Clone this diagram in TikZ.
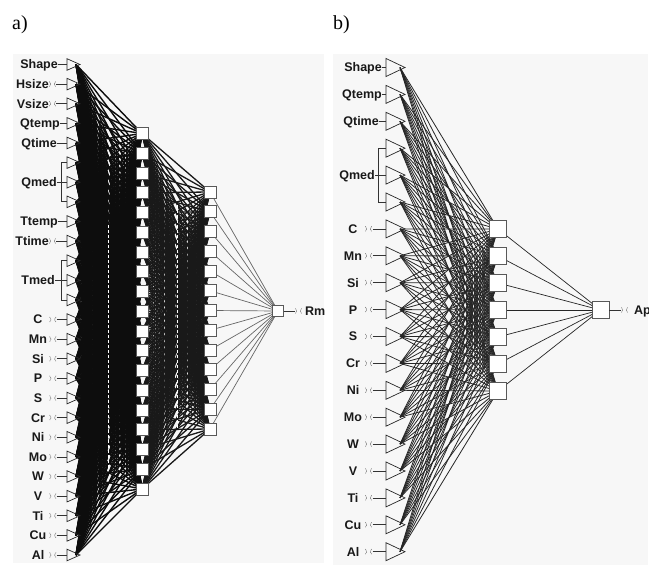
\documentclass[tikz,border=0pt]{standalone}
\usepackage{fontspec}
\setmainfont{Liberation Serif}
\newfontfamily\labfont{Liberation Sans}
\usetikzlibrary{calc}
\pgfdeclarelayer{bgl}
\pgfdeclarelayer{wires}
\pgfsetlayers{bgl,wires,main}
\definecolor{bgc}{gray}{0.97}
\definecolor{sqedge}{gray}{0.35}
\begin{document}
\begin{tikzpicture}[x=1bp,y=-1bp,
  lbl/.style={font=\labfont\bfseries\fontsize{12.5bp}{14bp}\selectfont, inner sep=0pt, text=black!90},
  captext/.style={font=\fontsize{20bp}{22bp}\selectfont, inner sep=0pt, anchor=base west},
  triA/.style={draw=black!85, line width=0.7bp},
  triB/.style={draw=black!85, line width=0.7bp},
  conn/.style={draw=black!80, line width=0.7bp},
  symst/.style={draw=black!50, line width=0.6bp, dash pattern=on 1bp off 0.6bp},
  sqA/.style={rectangle, draw=sqedge, fill=white, line width=0.8bp, minimum size=12bp, inner sep=0pt},
  sqB/.style={rectangle, draw=sqedge, fill=white, line width=0.8bp, minimum size=17.5bp, inner sep=0pt},
  wA1/.style={draw=black!95, line width=1.4bp},
  wA2/.style={draw=black!90, line width=1.3bp},
  wA3/.style={draw=black!60, line width=0.7bp},
  wB1/.style={draw=black!85, line width=0.8bp},
  wB2/.style={draw=black!85, line width=0.7bp},
  artefact/.style={draw=white, line width=0.9bp, dash pattern=on 3bp off 2bp},
  scl/.pic={\draw[symst] (-3.2,-2.6) .. controls (-1.2,0) .. (-3.2,2.6);
            \draw[symst] (3.2,-2.6) .. controls (1.2,0) .. (3.2,2.6);}
]
\useasboundingbox (0,0) rectangle (659,570);
\begin{pgfonlayer}{bgl}
\fill[bgc] (13,54) rectangle (324,563);
\fill[bgc] (333,54) rectangle (648,565);
\end{pgfonlayer}

\node[captext] (capa) at (12,30) {a)};
\node[captext] (capb) at (333,30) {b)};

% ---------------- panel a ----------------
\foreach \i in {0,...,25}{
  \pgfmathsetmacro\yy{64.5+19.62*\i}
  \coordinate (aL\i) at (67,\yy);
  \coordinate (aT\i) at (76,\yy);
  \draw[triA] (67,\yy-5.8) -- (80,\yy) -- (67,\yy+5.8) -- cycle;
}
\foreach \j in {0,...,18}{\node[sqA] (a1h\j) at (142,{133.5+19.75*\j}) {};}
\foreach \k in {0,...,12}{\node[sqA] (a2h\k) at (210,{192+19.75*\k}) {};}
\node[sqA, minimum size=11bp] (aout) at (278,311) {};

\begin{pgfonlayer}{wires}
\foreach \i in {0,...,25}{\foreach \j in {0,...,18}{\draw[wA1] (aT\i) -- (a1h\j.center);}}
\foreach \j in {0,...,18}{\foreach \k in {0,...,12}{\draw[wA2] (a1h\j.center) -- (a2h\k.center);}}
\foreach \k in {0,...,12}{\draw[wA3] (a2h\k.center) -- (aout.center);}
\draw[artefact] (108,225) -- (108,470);
\draw[artefact] (177,205) -- (177,430);
\end{pgfonlayer}

% labels panel a
\foreach \i/\t/\r in {0/Shape/58,3/Qtemp/60,4/Qtime/57,8/Ttemp/58}{
  \pgfmathsetmacro\yy{64.5+19.62*\i}
  \node[lbl, anchor=base east] (la\i) at (\r,\yy+4.4) {\t};
  \draw[conn] (la\i.east |- aL\i) -- (aL\i);
}
\foreach \i/\t in {1/Hsize,2/Vsize,9/Ttime}{
  \pgfmathsetmacro\yy{64.5+19.62*\i}
  \node[lbl, anchor=base east] (la\i) at (49,\yy+4.4) {\t};
  \pic at (52.5,\yy) {scl};
  \coordinate (aS\i) at (56,\yy);
  \draw[conn] (aS\i) -- (aL\i);
}
\foreach \i/\t in {13/C,14/Mn,15/Si,16/P,17/S,18/Cr,19/Ni,20/Mo,21/W,22/V,23/Ti,24/Cu,25/Al}{
  \pgfmathsetmacro\yy{64.5+19.62*\i}
  \node[lbl, anchor=base] (la\i) at (38,\yy+4.4) {\t};
  \pic at (52.8,\yy) {scl};
  \coordinate (aS\i) at (56.5,\yy);
  \draw[conn] (aS\i) -- (aL\i);
}
% brackets panel a
\foreach \a/\b/\c/\t/\r in {5/6/7/Qmed/57,10/11/12/Tmed/55}{
  \coordinate (aB\a) at ($(aL\a)+(-6,0)$);
  \coordinate (aB\b) at ($(aL\b)+(-6,0)$);
  \coordinate (aB\c) at ($(aL\c)+(-6,0)$);
  \draw[conn] (aB\a) -- (aB\c);
  \draw[conn] (aB\a) -- (aL\a);
  \draw[conn] (aB\b) -- (aL\b);
  \draw[conn] (aB\c) -- (aL\c);
  \path (aL\b) ++(0,4.4) coordinate (tmp\b);
  \node[lbl, anchor=base east] (la\b) at (\r,0 |- tmp\b) {\t};
  \draw[conn] (la\b.east |- aB\b) -- (aB\b);
}
\coordinate (aSo) at (294.5,311);
\draw[conn] (aout.east) -- (aSo);
\pic at (298.5,311) {scl};
\begin{scope}
\clip (13,54) rectangle (324,563);
\node[lbl, anchor=base west] (lRm) at (305,315.4) {Rm};
\end{scope}

% ---------------- panel b ----------------
\foreach \i in {0,...,18}{
  \pgfmathsetmacro\yy{67.5+26.9*\i}
  \coordinate (bL\i) at (386,\yy);
  \coordinate (bT\i) at (400,\yy);
  \draw[triB] (386,\yy-9) -- (405,\yy) -- (386,\yy+9) -- cycle;
}
\foreach \j in {0,...,6}{\node[sqB] (bh\j) at (498,{229+27*\j}) {};}
\node[sqB, minimum size=17bp] (bout) at (600.5,310) {};
\begin{pgfonlayer}{wires}
\foreach \i in {0,...,18}{\foreach \j in {0,...,6}{\draw[wB1] (bT\i) -- (bh\j.center);}}
\foreach \j in {0,...,6}{\draw[wB2] (bh\j.center) -- (bout.center);}
\end{pgfonlayer}
\foreach \i/\t/\r in {0/Shape/382,1/Qtemp/382,2/Qtime/379}{
  \pgfmathsetmacro\yy{67.5+26.9*\i}
  \node[lbl, anchor=base east] (lb\i) at (\r,\yy+4.4) {\t};
  \draw[conn] (lb\i.east |- bL\i) -- (bL\i);
}
\foreach \i/\t in {6/C,7/Mn,8/Si,9/P,10/S,11/Cr,12/Ni,13/Mo,14/W,15/V,16/Ti,17/Cu,18/Al}{
  \pgfmathsetmacro\yy{67.5+26.9*\i}
  \node[lbl, anchor=base] (lb\i) at (353,\yy+4.4) {\t};
  \pic at (368.5,\yy) {scl};
  \coordinate (bS\i) at (372.5,\yy);
  \draw[conn] (bS\i) -- (bL\i);
}
\coordinate (bB3) at (378,{67.5+26.9*3});
\coordinate (bB4) at (378,{67.5+26.9*4});
\coordinate (bB5) at (378,{67.5+26.9*5});
\draw[conn] (bB3) -- (bB5);
\draw[conn] (bB3) -- (bL3);
\draw[conn] (bB4) -- (bL4);
\draw[conn] (bB5) -- (bL5);
\node[lbl, anchor=base east] (lb4) at (375,{67.5+26.9*4+4.4}) {Qmed};
\draw[conn] (lb4.east |- bB4) -- (bB4);
\coordinate (bSo) at (620.5,310);
\draw[conn] (bout.east) -- (bSo);
\pic at (624.5,310) {scl};
\begin{scope}
\clip (333,54) rectangle (648,565);
\node[lbl, anchor=base west] (lAp) at (634,314.4) {Ap};
\end{scope}
\end{tikzpicture}
\end{document}
